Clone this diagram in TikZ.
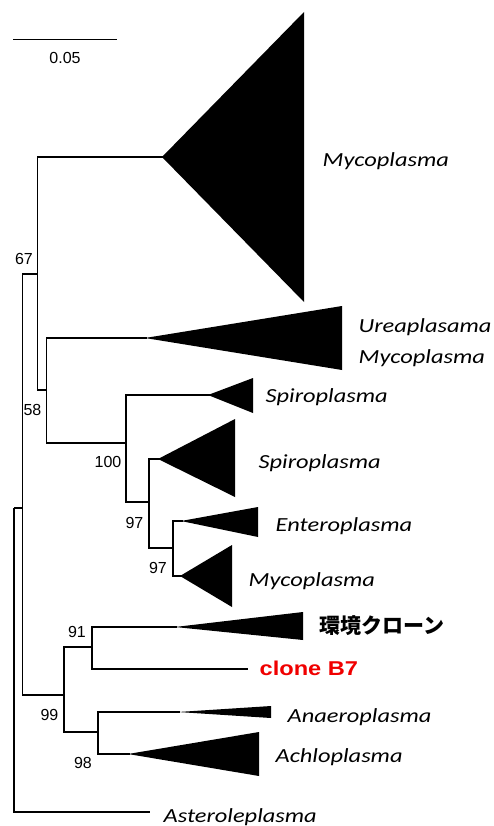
\documentclass[tikz,border=0pt]{standalone}
\usepackage{fontspec}
\setmainfont{Liberation Sans}
\newfontfamily\labfont{Carlito}[FakeStretch=1.22]
\newfontfamily\clonefont{Liberation Sans}[FakeStretch=1.18]
\newfontfamily\jpfont{Noto Sans CJK JP}
\definecolor{clonered}{RGB}{240,0,0}
\newcommand{\branch}[2]{\draw (#1) |- (#2)}
\newcommand{\clade}[4]{\fill ([xshift=-2pt]#1) -- (#2,#3) -- (#2,#4) -- cycle}
\newcommand{\taxon}[3]{\node[taxon] (#1) at (#2) {#3}}
\newcommand{\boot}[3]{\node[boot] (#1) at (#2) {#3}}

\begin{document}
\begin{tikzpicture}[x=1pt,y=-1pt,line width=1.3pt,
	taxon/.style={anchor=base west,inner sep=0pt,font=\labfont\itshape\fontsize{20}{24}\selectfont},
	boot/.style={inner sep=0pt,font=\fontsize{16}{18}\selectfont}]
\useasboundingbox (0,0) rectangle (494,826);
%
	\coordinate (root) at (14,508);
	\coordinate (inner) at (22.7,508);
	\coordinate (n67) at (37.7,274);
	\coordinate (n58) at (46.7,390);
	\coordinate (n100) at (126,443);
	\coordinate (n97a) at (149,502);
	\coordinate (n97b) at (173,548);
	\coordinate (n99) at (64,695);
	\coordinate (n91) at (92,647);
	\coordinate (n98) at (98,732);
%
	\coordinate (mycoA) at (164,157);
	\coordinate (ureaA) at (147,338);
	\coordinate (spiroA) at (210,395);
	\coordinate (spiroB) at (160,459);
	\coordinate (enteroA) at (183,521);
	\coordinate (mycoB) at (182,576);
	\coordinate (envA) at (177,627);
	\coordinate (cloneA) at (248,669);
	\coordinate (anaeroA) at (180,712);
	\coordinate (achloA) at (130,754);
	\coordinate (asterA) at (150,812);
%
	\draw (root) -- (inner);
	\branch{root}{asterA};
	\branch{inner}{n67};
	\branch{inner}{n99};
	\branch{n67}{mycoA};
	\branch{n67}{n58};
	\branch{n58}{ureaA};
	\branch{n58}{n100};
	\branch{n100}{spiroA};
	\branch{n100}{n97a};
	\branch{n97a}{spiroB};
	\branch{n97a}{n97b};
	\branch{n97b}{enteroA};
	\branch{n97b}{mycoB};
	\branch{n99}{n91};
	\branch{n99}{n98};
	\branch{n91}{envA};
	\branch{n91}{cloneA};
	\branch{n98}{anaeroA};
	\branch{n98}{achloA};
%
	\clade{mycoA}{304}{12}{302};
	\clade{ureaA}{342}{306}{370};
	\clade{spiroA}{253}{378}{413};
	\clade{spiroB}{235}{419}{497};
	\clade{enteroA}{258}{507}{537};
	\clade{mycoB}{232}{545}{607};
	\clade{envA}{303}{612}{640};
	\clade{anaeroA}{271}{706}{718};
	\clade{achloA}{259}{732}{776};
%
	\taxon{myco1}{322,167}{Mycoplasma};
	\taxon{urea}{358,332}{Ureaplasama};
	\taxon{myco2}{358,363}{Mycoplasma};
	\taxon{spiro1}{265,402}{Spiroplasma};
	\taxon{spiro2}{258,468}{Spiroplasma};
	\taxon{entero}{275,531}{Enteroplasma};
	\taxon{myco3}{248,586}{Mycoplasma};
	\node[anchor=west,inner sep=0pt,font=\jpfont\bfseries\fontsize{21}{24}\selectfont] (env) at (319,626) {環境クローン};
	\node[anchor=base west,inner sep=0pt,text=clonered,font=\clonefont\bfseries\fontsize{20}{24}\selectfont] (clone) at (259,675) {clone B7};
	\taxon{anaero}{287,722}{Anaeroplasma};
	\taxon{achlo}{275,762}{Achloplasma};
	\taxon{aster}{163,822}{Asteroleplasma};
%
	\boot{b67}{24,259}{67};
	\boot{b58}{32.5,409.5}{58};
	\boot{b100}{108,462}{100};
	\boot{b97a}{134.5,523}{97};
	\boot{b97b}{158,567.5}{97};
	\boot{b91}{77,632}{91};
	\boot{b99}{49.5,714.5}{99};
	\boot{b98}{83,763}{98};
%
	\coordinate (barL) at (13,39.5);
	\coordinate (barR) at (117,39.5);
	\draw (barL) -- (barR);
	\boot{barlab}{65,58}{0.05};
%
\end{tikzpicture}
\end{document}
